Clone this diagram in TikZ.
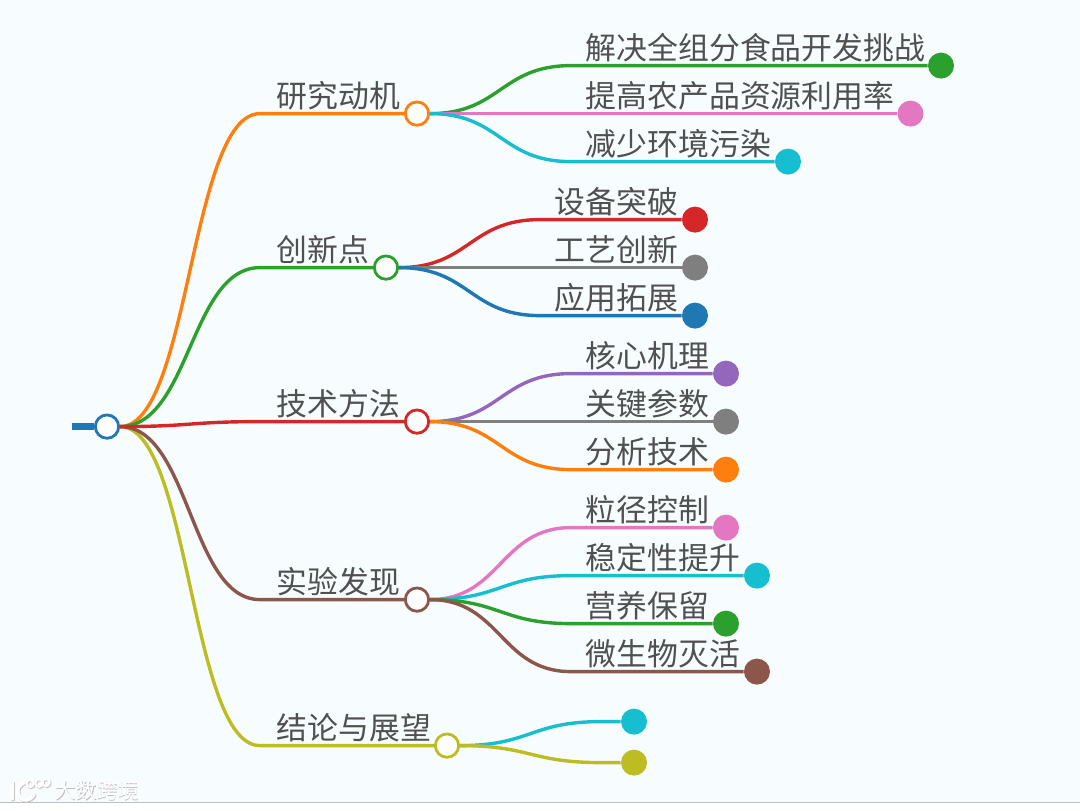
\documentclass[tikz,border=0pt]{standalone}
\usepackage{fontspec}
\setmainfont{Noto Sans CJK SC}
\usetikzlibrary{backgrounds,calc}
\definecolor{cA}{HTML}{1F77B4}\definecolor{cB}{HTML}{FF7F0E}\definecolor{cC}{HTML}{2CA02C}
\definecolor{cD}{HTML}{D62728}\definecolor{cE}{HTML}{9467BD}\definecolor{cF}{HTML}{8C564B}
\definecolor{cG}{HTML}{E377C2}\definecolor{cH}{HTML}{7F7F7F}\definecolor{cI}{HTML}{BCBD22}
\definecolor{cJ}{HTML}{17BECF}\definecolor{bgc}{HTML}{F7FDFF}\definecolor{txt}{HTML}{505050}
\tikzset{
 hub/.style={circle,draw=#1,line width=2.1pt,fill=white,minimum size=17.5pt,inner sep=0pt},
 tip/.style={circle,fill=#1,minimum size=19.5pt,inner sep=0pt},
 lab/.style={anchor=west,inner sep=0pt,yshift=0.5pt,text=txt,font=\fontsize{23.15}{23}\selectfont},
 link/.style={draw=#1,line width=2.55pt},
 wm/.style={inner sep=0pt,font=\fontsize{15.8}{17}\selectfont},
 logo/.pic={
  \draw[#1,line width=2.8pt,line cap=round] (12,782) -- (12,798);
  \draw[#1,line width=2.8pt,line cap=round,line join=round] (24,782) .. controls (16,785) and (15,796) .. (24,799) .. controls (28,800) and (32,797) .. (34,794);
  \draw[#1,line width=1.5pt] (30,783) circle (3.6);
  \draw[#1,line width=1.5pt] (39,782.5) circle (3.8);
  \draw[#1,line width=1.5pt] (46,782) circle (3.6);
 }
}
\newcommand{\conn}[4]{\draw[link=#1] (#2.east) let \p1=(#2.east),\p2=(#3) in .. controls ({0.5*\x1+0.5*\x2},\y1) and ({0.5*\x1+0.5*\x2},\y2) .. (#3) -- (#4.west);}
\begin{document}
\begin{tikzpicture}[x=0.75pt,y=-0.75pt]
\useasboundingbox (0,-0.6) rectangle (1080,809.4);
\begin{scope}[on background layer]
\fill[bgc] (0,-0.6) rectangle (1080,809.4);
\fill[white] (0,802.5) rectangle (1080,809.4);
\draw[gray!50,line width=0.6pt] (0,802) -- (1080,802);
\end{scope}
% hubs
\node[hub=cA] (root) at (107,426) {};
\node[hub=cB] (h1) at (417,113) {};
\node[hub=cC] (h2) at (386,267) {};
\node[hub=cD] (h3) at (417,421) {};
\node[hub=cF] (h4) at (417,599) {};
\node[hub=cI] (h5) at (447,745) {};
% branch labels
\node[lab] (t1) at (276.5,96) {研究动机};
\node[lab] (t2) at (276.5,250) {创新点};
\node[lab] (t3) at (276.5,404) {技术方法};
\node[lab] (t4) at (276.5,582) {实验发现};
\node[lab] (t5) at (276.5,728) {结论与展望};
% tips
\node[tip=cC] (a1) at (941,65) {};
\node[tip=cG] (a2) at (910.5,113) {};
\node[tip=cJ] (a3) at (788,161) {};
\node[tip=cD] (b1) at (695,219) {};
\node[tip=cH] (b2) at (695,267) {};
\node[tip=cA] (b3) at (695,315) {};
\node[tip=cE] (c1) at (726,373) {};
\node[tip=cH] (c2) at (726,421) {};
\node[tip=cB] (c3) at (726,469) {};
\node[tip=cG] (d1) at (726,527) {};
\node[tip=cJ] (d2) at (757,575) {};
\node[tip=cC] (d3) at (726,623) {};
\node[tip=cF] (d4) at (757,671) {};
\node[tip=cJ] (e1) at (634,721) {};
\node[tip=cI] (e2) at (634,762) {};
% tip labels
\node[lab] (la1) at (585.5,48) {解决全组分食品开发挑战};
\node[lab] (la2) at (585.5,96) {提高农产品资源利用率};
\node[lab] (la3) at (585.5,144) {减少环境污染};
\node[lab] (lb1) at (554.5,202) {设备突破};
\node[lab] (lb2) at (554.5,250) {工艺创新};
\node[lab] (lb3) at (554.5,298) {应用拓展};
\node[lab] (lc1) at (585.5,356) {核心机理};
\node[lab] (lc2) at (585.5,404) {关键参数};
\node[lab] (lc3) at (585.5,452) {分析技术};
\node[lab] (ld1) at (585.5,510) {粒径控制};
\node[lab] (ld2) at (585.5,558) {稳定性提升};
\node[lab] (ld3) at (585.5,606) {营养保留};
\node[lab] (ld4) at (585.5,654) {微生物灭活};
% elbows
\coordinate (s0) at (72,426);
\coordinate (k1) at (260,113);\coordinate (k2) at (260,267);\coordinate (k3) at (260,421);
\coordinate (k4) at (260,599);\coordinate (k5) at (260,745);
\coordinate (ma1) at (571,65);\coordinate (ma2) at (571,113);\coordinate (ma3) at (571,161);
\coordinate (mb1) at (540,219);\coordinate (mb2) at (540,267);\coordinate (mb3) at (540,315);
\coordinate (mc1) at (571,373);\coordinate (mc2) at (571,421);\coordinate (mc3) at (571,469);
\coordinate (md1) at (571,527);\coordinate (md2) at (571,575);\coordinate (md3) at (571,623);\coordinate (md4) at (571,671);
\coordinate (me1) at (601,721);\coordinate (me2) at (601,762);
\begin{scope}[on background layer]
\draw[cA,line width=5.4pt] (s0) -- (root.west);
\conn{cC}{h1}{ma1}{a1}\conn{cG}{h1}{ma2}{a2}\conn{cJ}{h1}{ma3}{a3}
\conn{cD}{h2}{mb1}{b1}\conn{cH}{h2}{mb2}{b2}\conn{cA}{h2}{mb3}{b3}
\conn{cE}{h3}{mc1}{c1}\conn{cH}{h3}{mc2}{c2}\conn{cB}{h3}{mc3}{c3}
\conn{cG}{h4}{md1}{d1}\conn{cJ}{h4}{md2}{d2}\conn{cC}{h4}{md3}{d3}\conn{cF}{h4}{md4}{d4}
\conn{cJ}{h5}{me1}{e1}\conn{cI}{h5}{me2}{e2}
\conn{cB}{root}{k1}{h1}\conn{cC}{root}{k2}{h2}\conn{cI}{root}{k5}{h5}\conn{cF}{root}{k4}{h4}\conn{cD}{root}{k3}{h3}
\end{scope}
% watermark
\path (1,1) pic {logo=gray!45};
\path (0,0) pic {logo=white};
\node[wm,text=gray!50] (w0) at (97.8,790.8) {大数跨境};
\node[wm,text=white] (w1) at (97,790) {大数跨境};
\end{tikzpicture}
\end{document}
